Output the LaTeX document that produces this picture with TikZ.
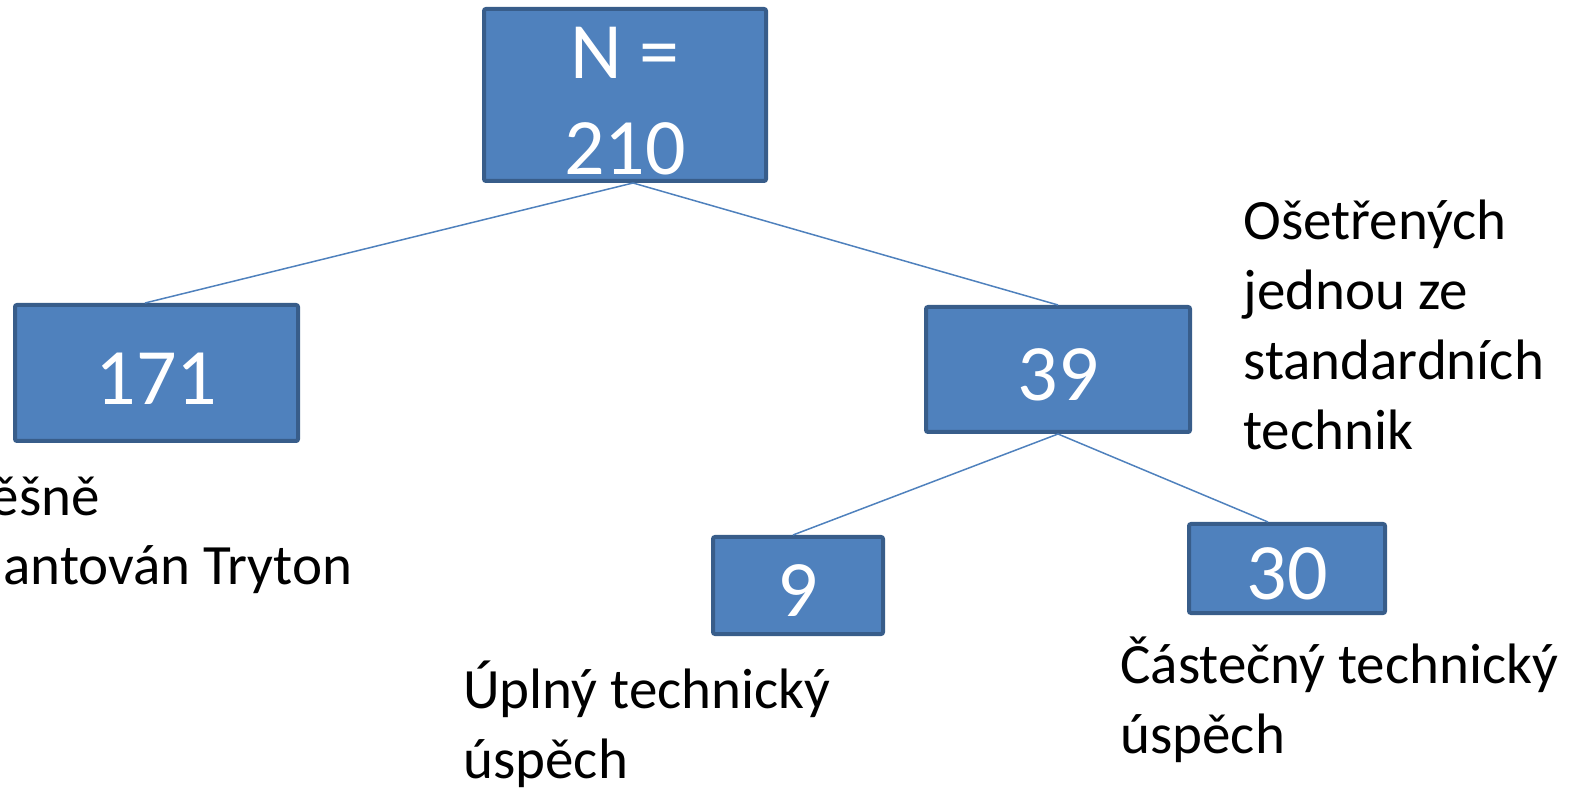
\documentclass[tikz,border=0pt]{standalone}
\usepackage{fontspec}
\setmainfont{Carlito}
\usetikzlibrary{positioning,calc}

\definecolor{boxfill}{HTML}{4F81BD}
\definecolor{boxline}{HTML}{385D8A}

\tikzset{
	box/.style={rectangle,fill=boxfill,draw=boxline,line width=2pt,rounded corners=1pt,
		inner sep=0pt,text=white,align=center,font=\fontsize{40}{48}\selectfont},
	num/.style={text height=31.3pt,text depth=0pt},
	link/.style={draw=boxfill,line width=.75pt},
	note/.style={inner sep=0pt,align=left,font=\fontsize{28.5}{35}\selectfont}
}

\begin{document}
\begin{tikzpicture}[x=0.5pt,y=-0.5pt,>=stealth]

\useasboundingbox (0,0) rectangle (1595,790);
\clip (0,0) rectangle (1595,790);

\node [box,text height=79.8pt,text depth=0pt,minimum width=141pt,minimum height=86pt] at (625,95) (n210) {N =\\210};

\node [box,num,minimum width=141.5pt,minimum height=68pt] at (156.5,373) (n171) {171};
\node [box,num,minimum width=132pt,minimum height=62.5pt] at (1058,369.5) (n39) {39};

\node [box,num,minimum width=85pt,minimum height=48.5pt] at (798,585.5) (n9) {9};
\node [box,num,minimum width=98pt,minimum height=44.5pt] at (1287,568.5) (n30) {30};

%%%%%%%%%%%%%%%%%%%%%%%%%%%%%%%%%%%%%%%%%%%%%%%%%%%%%%%%%%%%%%%%

\draw [link] ([xshift=4pt]n210.south) to ([xshift=-5.75pt]n171.north);
\draw [link] ([xshift=4pt]n210.south) to (n39.north);

\draw [link] (n39.south) to ([xshift=-2.5pt]n9.north);
\draw [link] (n39.south) to ([xshift=-9.5pt]n30.north);

%%%%%%%%%%%%%%%%%%%%%%%%%%%%%%%%%%%%%%%%%%%%%%%%%%%%%%%%%%%%%%%%

% base = baseline of the last line
\node [note,anchor=base east] at (353,585) (t171) {Úspěšně\\implantován Tryton};
\node [note,anchor=base west] at (1243,450) (t39) {Ošetřených\\jednou ze\\standardních\\technik};
\node [note,anchor=base west] at (463,778) (t9) {Úplný technický\\úspěch};
\node [note,anchor=base west] at (1120,753) (t30) {Částečný technický\\úspěch};

\end{tikzpicture}
\end{document}
